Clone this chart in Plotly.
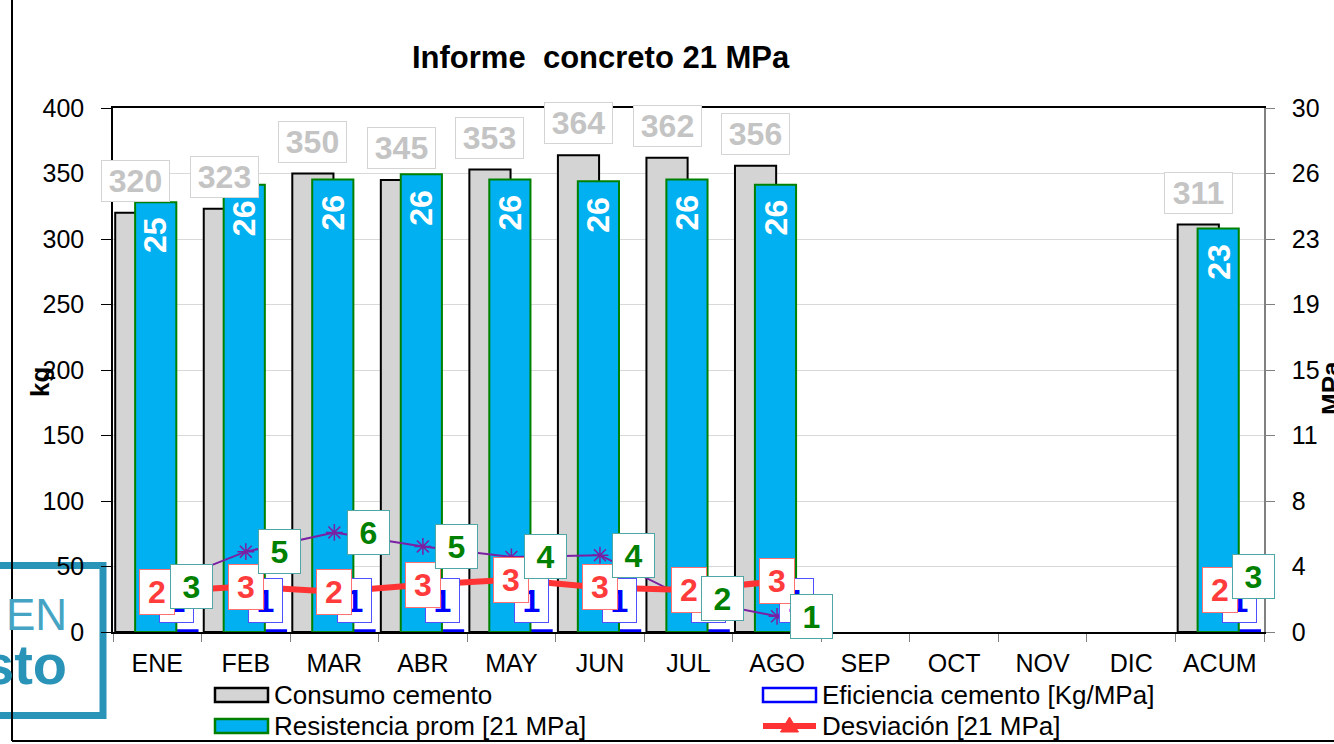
import plotly.graph_objects as go

# ---- data -------------------------------------------------------------
meses = ["ENE", "FEB", "MAR", "ABR", "MAY", "JUN", "JUL", "AGO",
         "SEP", "OCT", "NOV", "DIC", "ACUM"]
consumo = [320, 323, 350, 345, 353, 364, 362, 356, None, None, None, None, 311]        # kg
resistencia = [24.6, 25.6, 25.9, 26.2, 25.9, 25.8, 25.9, 25.6, None, None, None, None, 23.1]  # MPa
eficiencia = [1.3, 1.3, 1.4, 1.3, 1.4, 1.4, 1.4, 1.4, None, None, None, None, 1.3]     # Kg/MPa
desviacion = [2.3, 2.6, 2.3, 2.7, 3.0, 2.55, 2.4, 2.9, None, None, None, None, 2.4]    # MPa
variacion = [2.6, 4.6, 5.7, 4.9, 4.3, 4.4, 1.9, 0.9, None, None, None, None, 3.2]      # MPa scale
mpa_ticks = ["0", "4", "8", "11", "15", "19", "23", "26", "30"]

# ---- geometry helpers (pixel -> paper) -------------------------------
W, H = 1334, 744
PL, PR, PT, PB = 113, 1264, 108, 632


def px_x(p):
    return (p - PL) / (PR - PL)


def px_y(p):
    return (PB - p) / (PB - PT)


FONT = "Liberation Sans, Arial, sans-serif"

fig = go.Figure()

fig.add_trace(go.Bar(
    x=meses, y=consumo, name="Consumo cemento", yaxis="y",
    offset=-0.475, width=0.465,
    marker=dict(color="#d4d4d4", line=dict(color="black", width=2)),
))
fig.add_trace(go.Bar(
    x=meses, y=eficiencia, name="Eficiencia cemento [Kg/MPa]", yaxis="y",
    offset=-0.01, width=0.465,
    marker=dict(color="white", line=dict(color="#0000ff", width=2)),
))
fig.add_trace(go.Bar(
    x=meses, y=resistencia, name="Resistencia prom [21 MPa]", yaxis="y2",
    offset=-0.25, width=0.465,
    marker=dict(color="#00b0f0", line=dict(color="#008000", width=2)),
))
fig.add_trace(go.Scatter(
    x=meses, y=variacion, name="Variación", yaxis="y2",
    mode="lines+markers", connectgaps=False,
    line=dict(color="#7b1fa2", width=2),
    marker=dict(symbol="asterisk-open", size=14,
                line=dict(color="#7b1fa2", width=1.5)),
))
fig.add_trace(go.Scatter(
    x=meses, y=desviacion, name="Desviación [21 MPa]", yaxis="y2",
    mode="lines+markers", connectgaps=False,
    line=dict(color="#ff3333", width=6),
    marker=dict(symbol="triangle-up", size=12, color="#ff3333"),
))

annotations = []


def label(x, y, yref, text, color, border, w, h, xshift=0, yshift=0,
          size=32, angle=0, bg="white"):
    d = dict(x=x, y=y, xref="x", yref=yref, text=text, showarrow=False,
             xanchor="center", yanchor="middle", xshift=xshift, yshift=yshift,
             font=dict(family=FONT, size=size, color=color, weight="bold"),
             textangle=angle)
    if border:
        d.update(width=w, height=h, bgcolor=bg, bordercolor=border,
                 borderwidth=1, borderpad=1, valign="middle")
    annotations.append(d)


# consumption labels above the grey bars
for m, v in zip(meses, consumo):
    if v is not None:
        label(m, v, "y", f"{v:.0f}", "#c4c4c4", "#d4d4d4", 65, 38,
              xshift=-21.5, yshift=32)
# strength labels inside the blue bars
for m, v in zip(meses, resistencia):
    if v is not None:
        label(m, v, "y2", f"{v:.0f}", "white", None, 0, 0,
              xshift=-1.5, yshift=-33, size=32, angle=-90)
# efficiency labels
for m, v in zip(meses, eficiencia):
    if v is not None:
        label(m, v, "y", f"{v:.0f}", "#0000ff", "#5050ff", 31, 41,
              xshift=19.7, yshift=30)
# deviation labels
for m, v in zip(meses, desviacion):
    if v is not None:
        label(m, v, "y2", f"{v:.0f}", "#ff3b3b", "#ff7070", 32, 42)
# variation labels
for m, v in zip(meses, variacion):
    if v is not None:
        label(m, v, "y2", f"{v:.0f}", "#008000", "#50a5a5", 39, 41,
              xshift=34)


def paper_text(px, py, text, size, color="black", bold=False, anchor="center",
               angle=0, weight=None):
    annotations.append(dict(
        x=px_x(px), y=px_y(py), xref="paper", yref="paper", text=text,
        showarrow=False, xanchor=anchor, yanchor="middle", textangle=angle,
        font=dict(family=FONT, size=size, color=color,
                  weight=weight if weight else ("bold" if bold else "normal")),
    ))


# title and axis titles
paper_text(601, 57, "Informe\u00a0 concreto 21 MPa", 31, bold=True)
paper_text(40, 382, "kg", 26, bold=True, angle=-90)
paper_text(1331, 388, "MPa", 26, bold=True, angle=-90)

# legend (drawn by hand: two columns, two rows)
shapes = []
LEG = [
    (215, 695, "rect", "#d4d4d4", "black", "Consumo cemento"),
    (763, 695, "rect", "white", "#0000ff", "Eficiencia cemento [Kg/MPa]"),
    (215, 726, "rect", "#00b0f0", "#008000", "Resistencia prom [21 MPa]"),
    (763, 726, "line", "#ff3333", "#ff3333", "Desviación [21 MPa]"),
]
for x0, yc, kind, fill, edge, txt in LEG:
    x1 = x0 + 53
    if kind == "rect":
        shapes.append(dict(type="rect", xref="paper", yref="paper",
                           x0=px_x(x0), x1=px_x(x1),
                           y0=px_y(yc + 7), y1=px_y(yc - 7),
                           fillcolor=fill, line=dict(color=edge, width=2.5)))
    else:
        shapes.append(dict(type="line", xref="paper", yref="paper",
                           x0=px_x(x0), x1=px_x(x1), y0=px_y(yc), y1=px_y(yc),
                           line=dict(color=edge, width=6)))
        xm = (x0 + x1) / 2
        shapes.append(dict(type="path", xref="paper", yref="paper",
                           path=(f"M {px_x(xm - 9)} {px_y(yc + 6)} "
                                 f"L {px_x(xm + 9)} {px_y(yc + 6)} "
                                 f"L {px_x(xm)} {px_y(yc - 9)} Z"),
                           fillcolor=edge, line=dict(color=edge, width=1)))
    paper_text(x1 + 4, yc, txt, 26, anchor="left")

# watermark badge at the lower left
shapes.append(dict(type="rect", xref="paper", yref="paper", layer="below",
                   x0=px_x(-10), x1=px_x(103), y0=px_y(715.5), y1=px_y(565.5),
                   line=dict(color="#2a93b8", width=7)))
paper_text(69, 614, "EN", 44, color="#45a4c4", anchor="right", weight=300)
paper_text(69, 664, "sto", 56, color="#2a93b8", anchor="right", bold=True)

# outer chart frame
shapes.append(dict(type="line", xref="paper", yref="paper",
                   x0=px_x(12), x1=px_x(12), y0=px_y(741), y1=px_y(-5),
                   line=dict(color="black", width=2)))
shapes.append(dict(type="line", xref="paper", yref="paper",
                   x0=px_x(12), x1=px_x(1340), y0=px_y(741), y1=px_y(741),
                   line=dict(color="black", width=2)))

fig.update_layout(
    width=W, height=H, autosize=False,
    margin=dict(l=PL, r=W - PR, t=PT, b=H - PB, pad=0),
    paper_bgcolor="white", plot_bgcolor="white",
    barmode="overlay", showlegend=False,
    font=dict(family=FONT, size=25, color="black"),
    xaxis=dict(type="category", categoryorder="array", categoryarray=meses,
               range=[-0.5, len(meses) - 0.5],
               showline=True, linecolor="black", linewidth=2, mirror=True,
               ticks="outside", tickson="boundaries", ticklen=8,
               tickcolor="#808080", tickwidth=1, showgrid=False,
               tickfont=dict(size=25), ticklabelstandoff=8),
    yaxis=dict(range=[0, 400], tick0=0, dtick=50,
               showline=True, linecolor="black", linewidth=1.5,
               ticks="outside", ticklen=10, tickcolor="black", tickwidth=1,
               gridcolor="#d9d9d9", gridwidth=1, zeroline=False,
               tickfont=dict(size=25), ticklabelstandoff=12),
    yaxis2=dict(overlaying="y", side="right", range=[0, 30],
                tickvals=[i * 30 / (len(mpa_ticks) - 1) for i in range(len(mpa_ticks))],
                ticktext=mpa_ticks, showgrid=False, zeroline=False,
                showline=True, linecolor="#808080", linewidth=1.5,
                ticks="outside", ticklen=9, tickcolor="#808080", tickwidth=1,
                tickfont=dict(size=25), ticklabelstandoff=12),
    annotations=annotations,
    shapes=shapes,
)

fig.write_html("out.html")
